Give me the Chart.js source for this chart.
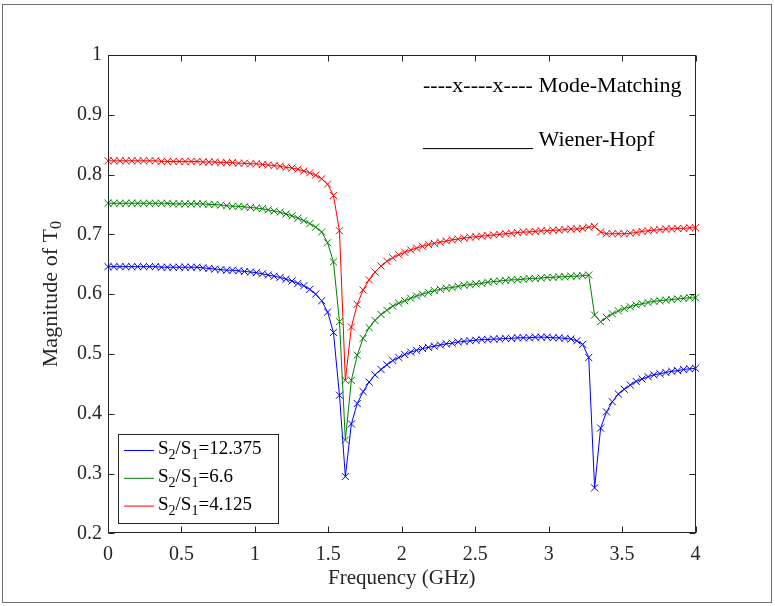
<!DOCTYPE html>
<html>
<head>
<meta charset="utf-8">
<script src="https://cdn.jsdelivr.net/npm/chart.js@4.4.0/dist/chart.umd.min.js"></script>
<style>
  html, body { margin: 0; padding: 0; background: #fff; }
  .figure { position: relative; width: 775px; height: 606px; }
</style>
</head>
<body>
<div class="figure"><canvas id="magnitude-chart"></canvas></div>
<script>
// frequency grid (GHz), 100 points from 0 to 4
const freqs = [
  0, 0.040, 0.081, 0.121, 0.162, 0.202, 0.242, 0.283, 0.323, 0.364,
  0.404, 0.444, 0.485, 0.525, 0.566, 0.606, 0.646, 0.687, 0.727, 0.768,
  0.808, 0.848, 0.889, 0.929, 0.970, 1.010, 1.051, 1.091, 1.131, 1.172,
  1.212, 1.253, 1.293, 1.333, 1.374, 1.414, 1.455, 1.495, 1.535, 1.576,
  1.616, 1.657, 1.697, 1.737, 1.778, 1.818, 1.859, 1.899, 1.939, 1.980,
  2.020, 2.061, 2.101, 2.141, 2.182, 2.222, 2.263, 2.303, 2.343, 2.384,
  2.424, 2.465, 2.505, 2.545, 2.586, 2.626, 2.667, 2.707, 2.747, 2.788,
  2.828, 2.869, 2.909, 2.949, 2.990, 3.030, 3.071, 3.111, 3.152, 3.192,
  3.232, 3.273, 3.313, 3.354, 3.394, 3.434, 3.475, 3.515, 3.556, 3.596,
  3.636, 3.677, 3.717, 3.758, 3.798, 3.838, 3.879, 3.919, 3.960, 4.000
];

// |T0| for S2/S1 = 12.375
const mag12375 = [
  0.646, 0.646, 0.646, 0.646, 0.646, 0.646, 0.646, 0.646, 0.646, 0.645,
  0.645, 0.645, 0.645, 0.645, 0.645, 0.645, 0.644, 0.643, 0.642, 0.641,
  0.640, 0.640, 0.639, 0.638, 0.637, 0.636, 0.634, 0.632, 0.630, 0.628,
  0.625, 0.622, 0.618, 0.614, 0.608, 0.600, 0.589, 0.570, 0.536, 0.431,
  0.295, 0.383, 0.417, 0.437, 0.453, 0.465, 0.474, 0.482, 0.489, 0.494,
  0.499, 0.503, 0.506, 0.509, 0.511, 0.513, 0.515, 0.517, 0.518, 0.520,
  0.521, 0.522, 0.523, 0.524, 0.524, 0.525, 0.525, 0.526, 0.526, 0.527,
  0.527, 0.527, 0.528, 0.528, 0.528, 0.527, 0.527, 0.526, 0.525, 0.522,
  0.516, 0.494, 0.276, 0.376, 0.403, 0.420, 0.433, 0.441, 0.448, 0.454,
  0.458, 0.462, 0.465, 0.467, 0.469, 0.471, 0.472, 0.474, 0.475, 0.476
];

// |T0| for S2/S1 = 6.6
const mag66 = [
  0.752, 0.752, 0.752, 0.752, 0.752, 0.752, 0.752, 0.752, 0.752, 0.752,
  0.752, 0.751, 0.751, 0.751, 0.751, 0.751, 0.751, 0.750, 0.750, 0.749,
  0.748, 0.747, 0.747, 0.746, 0.745, 0.744, 0.743, 0.741, 0.739, 0.737,
  0.734, 0.731, 0.727, 0.723, 0.718, 0.712, 0.704, 0.686, 0.654, 0.554,
  0.356, 0.456, 0.498, 0.526, 0.544, 0.556, 0.566, 0.573, 0.580, 0.585,
  0.589, 0.593, 0.597, 0.600, 0.603, 0.606, 0.608, 0.610, 0.611, 0.613,
  0.615, 0.616, 0.617, 0.618, 0.620, 0.621, 0.622, 0.623, 0.624, 0.624,
  0.625, 0.626, 0.626, 0.627, 0.628, 0.628, 0.629, 0.629, 0.630, 0.630,
  0.631, 0.632, 0.565, 0.554, 0.561, 0.567, 0.572, 0.576, 0.579, 0.582,
  0.584, 0.586, 0.588, 0.589, 0.590, 0.591, 0.592, 0.593, 0.594, 0.594
];

// |T0| for S2/S1 = 4.125
const mag4125 = [
  0.823, 0.823, 0.823, 0.823, 0.823, 0.823, 0.823, 0.823, 0.823, 0.822,
  0.822, 0.822, 0.822, 0.822, 0.822, 0.822, 0.821, 0.821, 0.821, 0.820,
  0.820, 0.820, 0.819, 0.819, 0.818, 0.818, 0.817, 0.816, 0.815, 0.814,
  0.812, 0.811, 0.809, 0.806, 0.803, 0.799, 0.793, 0.784, 0.765, 0.706,
  0.456, 0.545, 0.583, 0.607, 0.624, 0.637, 0.647, 0.655, 0.661, 0.666,
  0.670, 0.674, 0.677, 0.680, 0.683, 0.685, 0.687, 0.689, 0.691, 0.692,
  0.694, 0.695, 0.696, 0.697, 0.698, 0.699, 0.700, 0.701, 0.702, 0.703,
  0.704, 0.704, 0.705, 0.706, 0.706, 0.707, 0.707, 0.708, 0.709, 0.709,
  0.710, 0.712, 0.713, 0.704, 0.701, 0.701, 0.701, 0.701, 0.702, 0.703,
  0.705, 0.706, 0.707, 0.708, 0.709, 0.709, 0.710, 0.710, 0.711, 0.711
];

const ratios = ["12.375", "6.6", "4.125"];
const seriesColors = ["#0000ff", "#008000", "#ff0000"];

const serif = "'Liberation Serif', 'Times New Roman', serif";
const axisColor = "#262626";

const toPoints = (values) => values.map((v, i) => ({ x: freqs[i], y: v }));
const plainTick = (value) => String(Math.round(value * 10) / 10);

// draws text pieces, some of them as subscripts, returns total width
const drawPieces = (ctx, pieces, x, y, size, measureOnly) => {
  let cx = x;
  pieces.forEach(([text, sub]) => {
    const fs = sub ? Math.round(size * 0.72) : size;
    ctx.font = `${fs}px ${serif}`;
    if (!measureOnly) ctx.fillText(text, cx, sub ? y + size * 0.28 : y);
    cx += ctx.measureText(text).width;
  });
  return cx - x;
};

const matlabLook = {
  id: "matlabLook",
  beforeDraw(chart) {
    const { ctx, width, height } = chart;
    ctx.save();
    ctx.fillStyle = "#fff";
    ctx.fillRect(0, 0, width, height);
    ctx.strokeStyle = "#6e6e6e";
    ctx.lineWidth = 1;
    ctx.strokeRect(2.5, 4.5, 769, 598);
    ctx.restore();
  },
  afterDraw(chart) {
    const { ctx, chartArea: a, scales } = chart;
    const x = scales.x;
    const y = scales.y;
    ctx.save();

    // axes box and inward ticks
    ctx.strokeStyle = axisColor;
    ctx.lineWidth = 1;
    const L = Math.round(a.left) + 0.5;
    const R = Math.round(a.right) - 0.5;
    const T = Math.round(a.top) + 0.5;
    const B = Math.round(a.bottom) - 0.5;
    ctx.strokeRect(L, T, R - L, B - T);
    ctx.beginPath();
    x.ticks.forEach((t) => {
      const px = Math.round(x.getPixelForValue(t.value)) + 0.5;
      ctx.moveTo(px, B);
      ctx.lineTo(px, B - 6);
      ctx.moveTo(px, T);
      ctx.lineTo(px, T + 6);
    });
    y.ticks.forEach((t) => {
      const py = Math.round(y.getPixelForValue(t.value)) + 0.5;
      ctx.moveTo(L, py);
      ctx.lineTo(L + 6, py);
      ctx.moveTo(R, py);
      ctx.lineTo(R - 6, py);
    });
    ctx.stroke();

    // y axis title with subscript
    ctx.fillStyle = axisColor;
    ctx.textBaseline = "middle";
    ctx.textAlign = "left";
    const yTitle = [["Magnitude of T", false], ["0", true]];
    const tw = drawPieces(ctx, yTitle, 0, 0, 22, true);
    ctx.save();
    ctx.translate(51, (a.top + a.bottom) / 2);
    ctx.rotate(-Math.PI / 2);
    drawPieces(ctx, yTitle, -tw / 2, 0, 22, false);
    ctx.restore();

    // method notes
    ctx.textBaseline = "alphabetic";
    ctx.font = `22px ${serif}`;
    ctx.fillStyle = "#000";
    ctx.fillText("----x----x---- Mode-Matching", 423, 92);
    ctx.fillText("__________ Wiener-Hopf", 423, 146);

    // legend
    const box = { x: 118.5, y: 434.5, w: 160, h: 89 };
    ctx.fillStyle = "#fff";
    ctx.fillRect(box.x, box.y, box.w, box.h);
    ctx.strokeStyle = axisColor;
    ctx.strokeRect(box.x, box.y, box.w, box.h);
    chart.data.datasets.forEach((ds, i) => {
      const ly = 450.5 + i * 27.8;
      ctx.strokeStyle = ds.borderColor;
      ctx.beginPath();
      ctx.moveTo(124, ly);
      ctx.lineTo(154, ly);
      ctx.stroke();
      ctx.fillStyle = "#000";
      drawPieces(ctx, [["S", false], ["2", true], ["/S", false], ["1", true], ["=" + ratios[i], false]], 158, ly + 3.5, 19, false);
    });

    ctx.restore();
  }
};

const renderChart = () => {
  const canvas = document.getElementById("magnitude-chart");
  const seriesValues = [mag12375, mag66, mag4125];

  new Chart(canvas, {
    type: "line",
    data: {
      datasets: seriesValues.map((values, i) => ({
        label: "S2/S1=" + ratios[i],
        data: toPoints(values),
        borderColor: seriesColors[i],
        borderWidth: 1,
        pointStyle: "crossRot",
        pointRadius: 5,
        pointBorderWidth: 1,
        pointBorderColor: seriesColors[i],
        pointBackgroundColor: seriesColors[i],
        tension: 0,
        clip: false
      }))
    },
    options: {
      responsive: true,
      maintainAspectRatio: false,
      animation: false,
      events: [],
      layout: { padding: { left: 48, right: 79.5, top: 55, bottom: 14.7 } },
      plugins: { legend: { display: false }, tooltip: { enabled: false } },
      scales: {
        x: {
          type: "linear",
          min: 0,
          max: 4,
          grid: { display: false, drawTicks: false },
          border: { display: false },
          ticks: { stepSize: 0.5, padding: 9, color: axisColor, font: { family: serif, size: 20 }, callback: plainTick },
          title: {
            display: true,
            text: "Frequency (GHz)",
            color: axisColor,
            padding: { top: 0, bottom: 0 },
            font: { family: serif, size: 21 }
          },
          afterFit: (s) => { s.height = 58; }
        },
        y: {
          min: 0.2,
          max: 1,
          grid: { display: false, drawTicks: false },
          border: { display: false },
          ticks: { stepSize: 0.1, padding: 6, color: axisColor, font: { family: serif, size: 20 }, callback: plainTick },
          afterFit: (s) => { s.width = 60; }
        }
      }
    },
    plugins: [matlabLook]
  });
};

renderChart();
</script>
</body>
</html>
